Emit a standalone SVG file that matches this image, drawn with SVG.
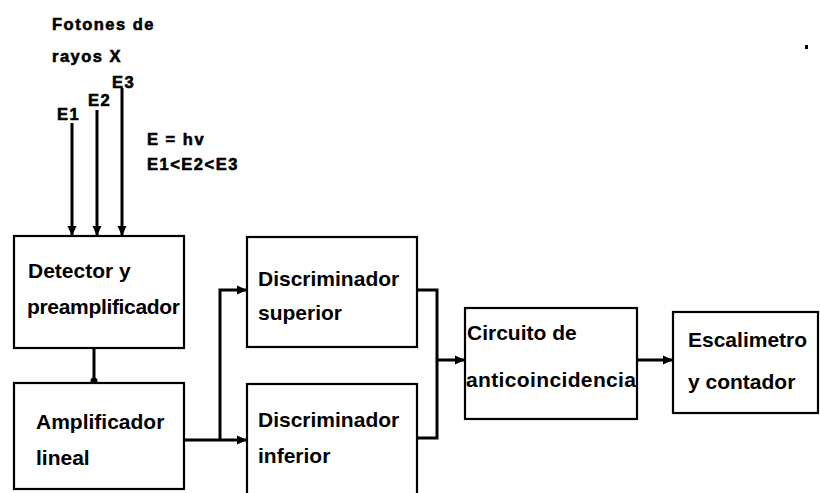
<svg xmlns="http://www.w3.org/2000/svg" width="820" height="493" viewBox="0 0 820 493">
<defs>
<style>
.box{fill:#fff;stroke:#000;stroke-width:2.2}
.t{font-family:"Liberation Sans",Arial,sans-serif;font-weight:bold;font-size:21px;fill:#000}
.s{font-family:"Liberation Sans",Arial,sans-serif;font-weight:900;font-size:16.5px;fill:#000;stroke:#000;stroke-width:0.6;letter-spacing:1.5px}
.c{fill:none;stroke:#000;stroke-width:3}
</style>
<marker id="ah" markerWidth="10" markerHeight="10" refX="9" refY="5" orient="auto" markerUnits="userSpaceOnUse">
<path d="M0,0.5 L10,5 L0,9.5 z" fill="#000"/>
</marker>
</defs>
<rect width="820" height="493" fill="#fff"/>
<g id="labels">
<text class="s" x="52" y="30">Fotones de</text>
<text class="s" x="52" y="62">rayos X</text>
<text class="s" x="57" y="120">E1</text>
<text class="s" x="88" y="106">E2</text>
<text class="s" x="112" y="88">E3</text>
<text class="s" x="147" y="145">E = hv</text>
<text class="s" x="147" y="170" letter-spacing="0.5">E1&lt;E2&lt;E3</text>
<rect x="805" y="45" width="3" height="4" fill="#000"/>
</g>
<g id="connectors">
<line class="c" x1="72" y1="123" x2="72" y2="235" marker-end="url(#ah)"/>
<line class="c" x1="97" y1="110" x2="97" y2="235" marker-end="url(#ah)"/>
<line class="c" x1="122" y1="88" x2="122" y2="235" marker-end="url(#ah)"/>
<line class="c" x1="94" y1="348" x2="94" y2="381"/>
<circle cx="94" cy="381" r="3.5" fill="#000"/>
<polyline class="c" points="184,440 246,440" marker-end="url(#ah)"/>
<polyline class="c" points="220,440 220,290 246,290" marker-end="url(#ah)"/>
<polyline class="c" points="417,290 437,290 437,438 417,438"/>
<polyline class="c" points="437,360 464,360" marker-end="url(#ah)"/>
<polyline class="c" points="637,360 672,360" marker-end="url(#ah)"/>
</g>
<g id="detector">
<rect class="box" x="14" y="236" width="170" height="112"/>
<text class="t" x="28" y="278">Detector y</text>
<text class="t" x="27" y="314" textLength="153">preamplificador</text>
</g>
<g id="amplificador">
<rect class="box" x="14" y="383" width="170" height="106"/>
<text class="t" x="36" y="429">Amplificador</text>
<text class="t" x="36" y="465">lineal</text>
</g>
<g id="disc-superior">
<rect class="box" x="247" y="237" width="170" height="110"/>
<text class="t" x="258" y="286">Discriminador</text>
<text class="t" x="258" y="320">superior</text>
</g>
<g id="disc-inferior">
<rect class="box" x="247" y="384" width="170" height="115"/>
<text class="t" x="258" y="427">Discriminador</text>
<text class="t" x="258" y="463">inferior</text>
</g>
<g id="circuito">
<rect class="box" x="465" y="308" width="172" height="111"/>
<text class="t" x="467" y="340">Circuito de</text>
<text class="t" x="466" y="387" textLength="170">anticoincidencia</text>
</g>
<g id="escalimetro">
<rect class="box" x="673" y="312" width="145" height="101"/>
<text class="t" x="688" y="347">Escalimetro</text>
<text class="t" x="688" y="389">y contador</text>
</g>
</svg>
